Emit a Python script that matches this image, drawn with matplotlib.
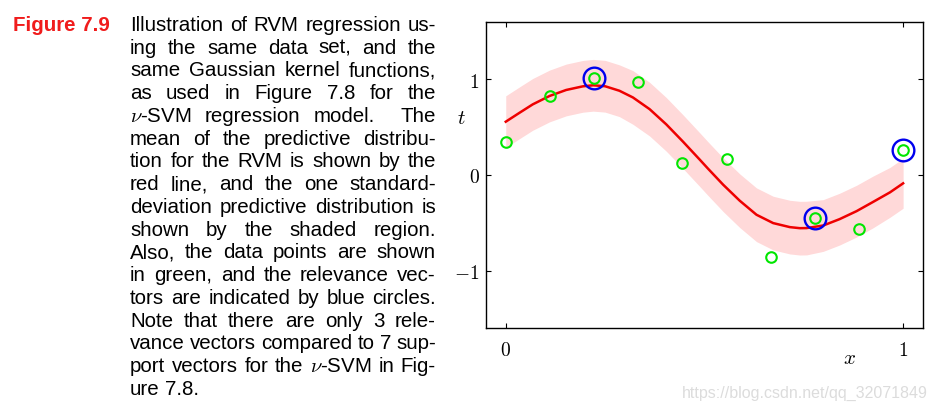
import numpy as np
import matplotlib
matplotlib.use("Agg")
import matplotlib.pyplot as plt

plt.rcParams['mathtext.fontset'] = 'cm'

# data points (green) and relevance vectors (blue)
x_data = [0.0, 0.111, 0.222, 0.333, 0.444, 0.556, 0.667, 0.778, 0.889, 1.0]
t_data = [0.345, 0.827, 1.009, 0.970, 0.129, 0.161, -0.855, -0.450, -0.569, 0.258]
rv_idx = [2, 7, 9]

# predictive mean and one standard deviation
mean_x = [0.0, 0.035, 0.068, 0.11, 0.152, 0.194, 0.22, 0.25, 0.286, 0.32,
          0.362, 0.404, 0.446, 0.488, 0.509, 0.547, 0.589, 0.631, 0.673, 0.715,
          0.74, 0.757, 0.799, 0.84, 0.883, 0.924, 0.967, 1.0]
mean_t = [0.555, 0.649, 0.736, 0.823, 0.886, 0.924, 0.935, 0.925, 0.878, 0.808,
          0.686, 0.527, 0.347, 0.160, 0.065, -0.102, -0.270, -0.416, -0.503, -0.545,
          -0.556, -0.555, -0.528, -0.462, -0.378, -0.283, -0.182, -0.088]
std_t = [0.27, 0.27, 0.27, 0.27, 0.27, 0.27, 0.27, 0.27, 0.27, 0.28,
         0.28, 0.28, 0.28, 0.28, 0.28, 0.28, 0.28, 0.28, 0.28, 0.28,
         0.28, 0.28, 0.27, 0.27, 0.27, 0.27, 0.26, 0.26]

caption_lines = [
    "Illustration of RVM regression us-",
    "ing the same data set, and the",
    "same Gaussian kernel functions,",
    "as used in Figure 7.8 for the",
    r"$\nu$-SVM regression model.  The",
    "mean of the predictive distribu-",
    "tion for the RVM is shown by the",
    "red line, and the one standard-",
    "deviation predictive distribution is",
    "shown by the shaded region.",
    "Also, the data points are shown",
    "in green, and the relevance vec-",
    "tors are indicated by blue circles.",
    "Note that there are only 3 rele-",
    "vance vectors compared to 7 sup-",
    r"port vectors for the $\nu$-SVM in Fig-",
    "ure 7.8.",
]

W, H = 938, 410
fig = plt.figure(figsize=(W / 100, H / 100), dpi=100)
ax = fig.add_axes([0.518, 0.197, 0.466, 0.748])

mx = np.array(mean_x)
mt = np.array(mean_t)
sd = np.array(std_t)
ax.fill_between(mx, mt - sd, mt + sd, color='#ffd9d9', lw=0, zorder=1)
ax.plot(mx, mt, color='#ee0000', lw=1.8, zorder=2, solid_joinstyle='round')

xd = np.array(x_data)
td = np.array(t_data)
ax.plot(xd, td, 'o', ms=7.6, mfc='none', mec='#00e600', mew=1.5, zorder=3)
ax.plot(xd[rv_idx], td[rv_idx], 'o', ms=15.6, mfc='none', mec='#0000ee', mew=1.7, zorder=4)

ax.set_xlim(-0.05, 1.05)
ax.set_ylim(-1.6, 1.6)
ax.set_xticks([0, 1])
ax.set_xticklabels(['$0$', '$1$'], fontsize=14)
ax.set_yticks([-1, 0, 1])
ax.set_yticklabels(['$-1$', '$0$', '$1$'], fontsize=14)
ax.tick_params(axis='x', direction='in', top=True, length=3.6, width=0.8, pad=8.5)
ax.tick_params(axis='y', direction='in', right=True, length=3.6, width=0.8, pad=4.5)
for s in ax.spines.values():
    s.set_linewidth(1.0)

ax.text(-0.056, 0.688, '$t$', transform=ax.transAxes, fontsize=15, ha='center', va='center')
ax.text(0.832, -0.095, '$x$', transform=ax.transAxes, fontsize=15, ha='center', va='center')

# caption, justified between two edges
fs = 14.8
x_left, x_right = 130, 436
base0, step = 31, 22.75
r = fig.canvas.get_renderer()
for i, line in enumerate(caption_lines):
    y = 1 - (base0 + i * step) / H
    words = line.split(' ')
    gaps = []
    w_list = []
    extra = 0
    for w in words:
        if w == '':
            extra += 1
            continue
        gaps.append(1 + extra)
        extra = 0
        w_list.append(w)
    texts = [fig.text(0, y, w, fontsize=fs, family='Liberation Sans', va='baseline') for w in w_list]
    widths = [t.get_window_extent(r).width for t in texts]
    total = sum(widths)
    weights = gaps[1:]
    if i == len(caption_lines) - 1:
        space = fs * 1.389 * 0.278
    else:
        space = (x_right - x_left - total) / sum(weights)
    xpos = x_left
    for k, t in enumerate(texts):
        if k > 0:
            xpos += space * weights[k - 1]
        t.set_x(xpos / W)
        xpos += widths[k]

fig.text(13 / W, 1 - base0 / H, 'Figure 7.9', fontsize=fs, family='Liberation Sans',
         weight='bold', color='#f01c1c', va='baseline')

fig.text(928 / W, 1 - 398 / H, 'https://blog.csdn.net/qq_32071849', fontsize=11.5,
         family='Liberation Sans', color='#dcdcdc', ha='right', va='baseline')

fig.savefig('out.png', dpi=100)
